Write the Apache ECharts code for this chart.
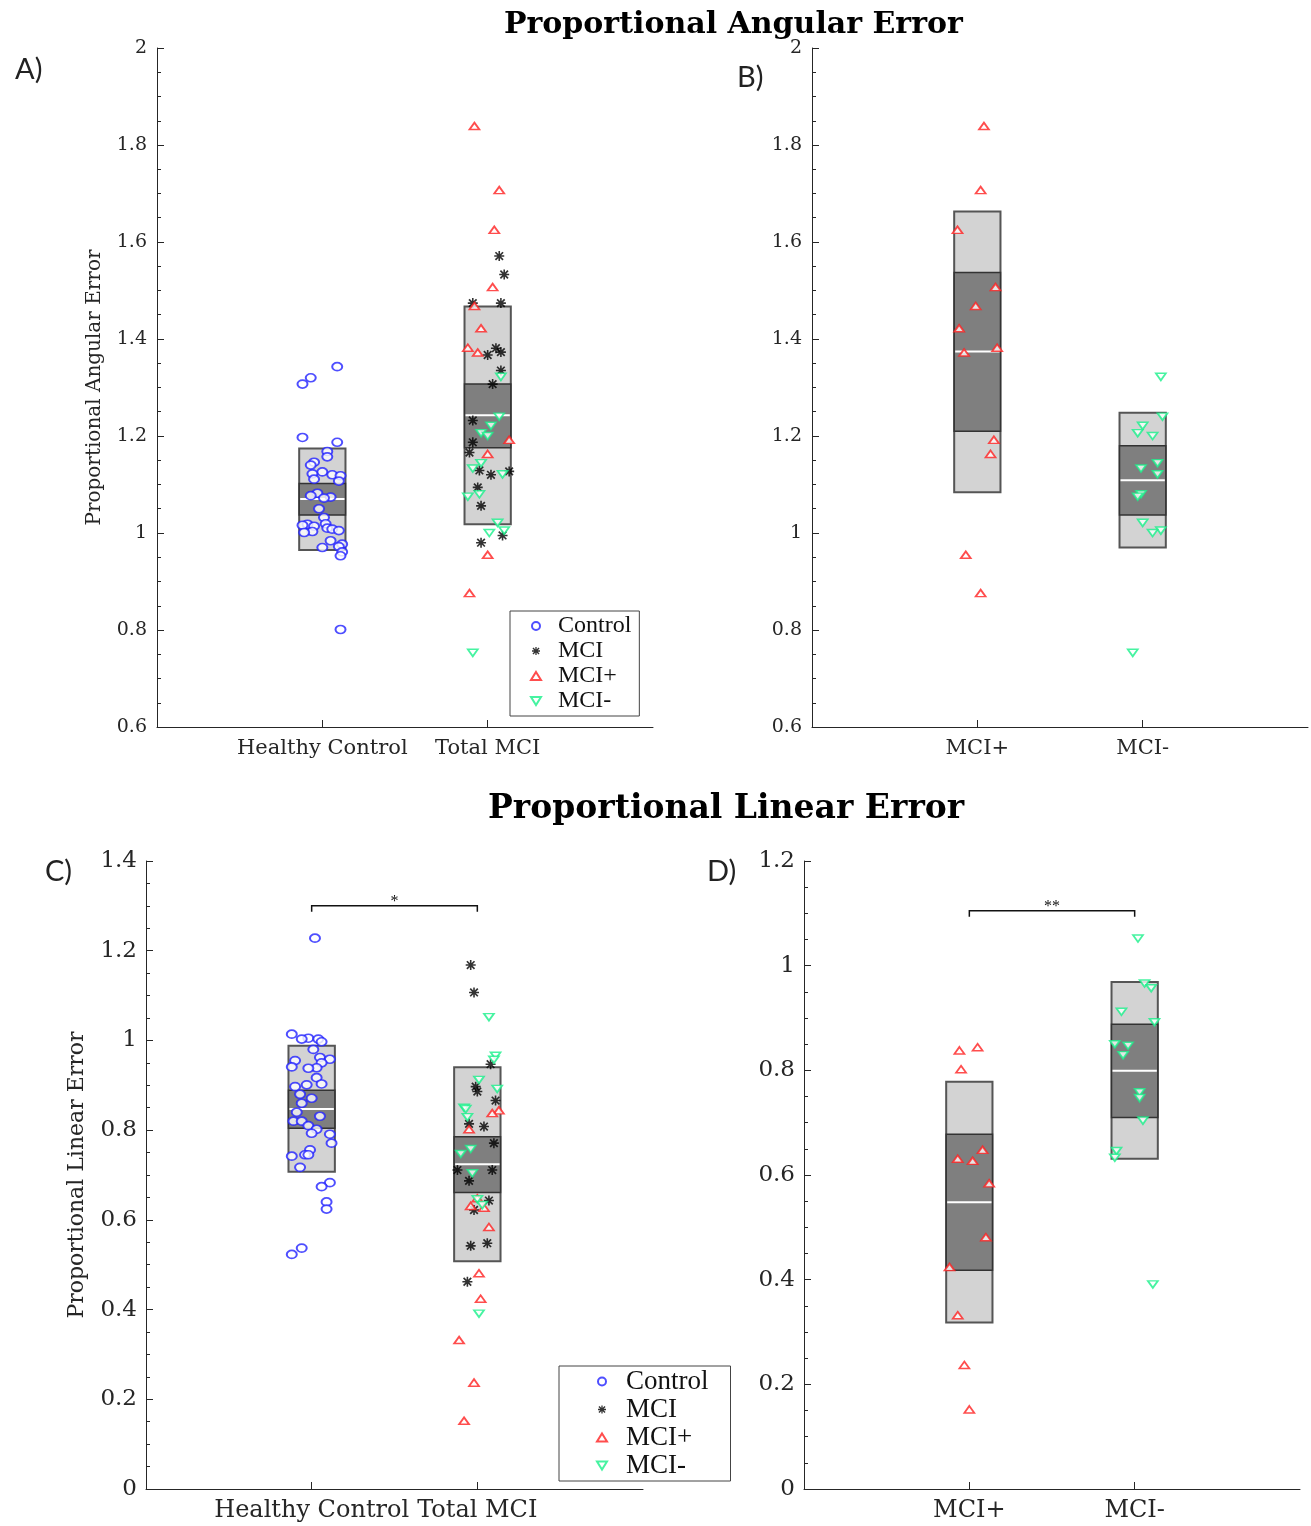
<!DOCTYPE html>
<html>
<head>
<meta charset="utf-8">
<script src="https://cdn.jsdelivr.net/npm/echarts@6/dist/echarts.min.js"></script>
<style>
  html, body { margin: 0; padding: 0; background: #fff; }
  #chart { width: 1311px; height: 1526px; }
</style>
</head>
<body>
<div id="chart"></div>
<script>
// ---- Categories ----
const catsOverall = ['Healthy Control', 'Total MCI'];
const catsSplit = ['MCI+', 'MCI-'];

// ---- Proportional angular error ----
const angControl = [1.343, 1.320, 1.307, 1.197, 1.187, 1.168, 1.157, 1.146, 1.140, 1.126, 1.122, 1.120, 1.118, 1.111, 1.107, 1.082, 1.077, 1.074, 1.072, 1.050, 1.032, 1.019, 1.018, 1.016, 1.014, 1.010, 1.008, 1.005, 1.003, 1.001, 0.984, 0.977, 0.972, 0.970, 0.961, 0.953, 0.801];
const angControlJitter = [0.09, -0.07, -0.12, -0.12, 0.09, 0.03, 0.03, -0.05, -0.07, 0, -0.06, 0.06, 0.11, -0.05, 0.10, -0.03, -0.07, 0.05, 0.01, -0.02, 0.01, 0.02, -0.09, -0.12, -0.05, 0.03, 0.06, 0.10, -0.06, -0.11, 0.05, 0.12, 0.10, 0, 0.12, 0.11, 0.11];

const angMci = [1.571, 1.533, 1.474, 1.474, 1.381, 1.373, 1.367, 1.335, 1.307, 1.232, 1.187, 1.166, 1.129, 1.127, 1.120, 1.094, 1.056, 0.995, 0.980];
const angMciJitter = [0.07, 0.10, -0.09, 0.08, 0.05, 0.08, 0, 0.08, 0.03, -0.09, -0.09, -0.11, -0.05, 0.13, 0.02, -0.06, -0.04, 0.09, -0.04];

const angMciPlus = [1.839, 1.707, 1.625, 1.507, 1.468, 1.422, 1.382, 1.372, 1.192, 1.163, 0.955, 0.876];
const angMciPlusJitterA = [-0.08, 0.07, 0.04, 0.03, -0.08, -0.04, -0.12, -0.06, 0.13, 0, 0, -0.11];
const angMciPlusJitterB = [0.04, 0.02, -0.12, 0.11, -0.01, -0.11, 0.12, -0.08, 0.10, 0.08, -0.07, 0.02];

const angMciMinus = [1.322, 1.240, 1.221, 1.206, 1.200, 1.144, 1.133, 1.121, 1.080, 1.075, 1.021, 1.005, 1.000, 0.753];
const angMciMinusJitterA = [0.08, 0.07, 0.02, -0.04, 0, -0.04, -0.09, 0.09, -0.05, -0.12, 0.06, 0.10, 0.01, -0.09];
const angMciMinusJitterB = [0.11, 0.12, 0, -0.03, 0.06, 0.09, -0.01, 0.09, -0.01, -0.03, 0, 0.11, 0.06, -0.06];

// box summaries: [sdLow, sdHigh, ciLow, ciHigh, mean]
const angBoxControl = [0.965, 1.174, 1.037, 1.102, 1.070];
const angBoxTotal = [1.018, 1.467, 1.176, 1.307, 1.243];
const angBoxPlus = [1.084, 1.663, 1.210, 1.537, 1.374];
const angBoxMinus = [0.970, 1.248, 1.037, 1.180, 1.109];

// ---- Proportional linear error ----
const linControl = [1.228, 1.014, 1.005, 1.003, 1.003, 0.997, 0.980, 0.962, 0.958, 0.955, 0.950, 0.941, 0.939, 0.938, 0.917, 0.903, 0.901, 0.897, 0.880, 0.871, 0.860, 0.840, 0.831, 0.820, 0.820, 0.810, 0.802, 0.793, 0.791, 0.771, 0.756, 0.745, 0.745, 0.742, 0.717, 0.683, 0.674, 0.640, 0.624, 0.537, 0.523];
const linControlJitter = [0.02, -0.12, -0.02, -0.06, 0.04, 0.06, 0.01, 0.05, 0.11, -0.10, 0.06, -0.12, 0.03, -0.02, 0.03, 0.06, -0.03, -0.10, -0.07, 0, -0.06, -0.09, 0.05, -0.11, -0.06, -0.02, 0.03, 0, 0.11, 0.12, -0.01, -0.04, -0.02, -0.12, -0.07, 0.11, 0.06, 0.09, 0.09, -0.06, -0.12];

const linMci = [1.168, 1.107, 0.947, 0.897, 0.886, 0.866, 0.814, 0.808, 0.771, 0.711, 0.711, 0.687, 0.643, 0.622, 0.548, 0.542, 0.462];
const linMciJitter = [-0.04, -0.02, 0.08, -0.01, 0, 0.11, -0.05, 0.04, 0.10, -0.12, 0.09, -0.05, 0.07, -0.02, 0.06, -0.04, -0.06];

const linMciPlus = [0.844, 0.838, 0.802, 0.648, 0.631, 0.627, 0.584, 0.481, 0.424, 0.332, 0.237, 0.152];
const linMciPlusJitterC = [0.13, 0.09, -0.05, 0, -0.04, 0.04, 0.07, 0.01, 0.02, -0.11, -0.02, -0.08];
const linMciPlusJitterD = [0.05, -0.06, -0.05, 0.08, -0.07, 0.02, 0.12, 0.10, -0.12, -0.07, -0.03, 0];

const linMciMinus = [1.052, 0.966, 0.957, 0.912, 0.892, 0.850, 0.847, 0.829, 0.758, 0.747, 0.704, 0.646, 0.633, 0.391];
const linMciMinusJitterC = [0.07, 0.11, 0.10, 0.01, 0.12, -0.08, -0.07, -0.06, -0.04, -0.10, -0.03, 0, 0.03, 0.01];
const linMciMinusJitterD = [0.02, 0.06, 0.10, -0.08, 0.12, -0.12, -0.04, -0.07, 0.03, 0.03, 0.05, -0.11, -0.12, 0.11];

const linBoxControl = [0.707, 0.988, 0.804, 0.889, 0.847];
const linBoxTotal = [0.508, 0.940, 0.661, 0.785, 0.724];
const linBoxPlus = [0.318, 0.778, 0.418, 0.678, 0.548];
const linBoxMinus = [0.631, 0.969, 0.710, 0.888, 0.799];

// significance brackets: [from group, to group, height]
const sigLinOverall = [1, 2, 1.30];
const sigLinSplit = [1, 2, 1.105];
const sigLabelOverall = '*';
const sigLabelSplit = '**';

// ---- Styling ----
const AXIS_COLOR = '#262626';
const SERIF = 'Liberation Serif';
const WIDE_SERIF = 'DejaVu Serif';
const BOX_HALF = 0.14;

const STAR_PATH = 'path://M0,4.2L10,4.2L10,5.8L0,5.8Z M4.2,0L5.8,0L5.8,10L4.2,10Z M0.6,1.8L1.8,0.6L9.4,8.2L8.2,9.4Z M8.2,0.6L9.4,1.8L1.8,9.4L0.6,8.2Z';
const DOWN_TRI = 'path://M0,0L10,0L5,8Z';

const markerStyle = {
  Control: { symbol: 'circle', symbolSize: [10, 8], itemStyle: { color: '#fff', borderColor: '#2222ff', borderWidth: 1.8 } },
  MCI: { symbol: STAR_PATH, symbolSize: 10, itemStyle: { color: '#000' } },
  'MCI+': { symbol: 'triangle', symbolSize: [10, 7], itemStyle: { color: '#fff', borderColor: '#ff2020', borderWidth: 1.7 } },
  'MCI-': { symbol: DOWN_TRI, symbolSize: [10, 7], itemStyle: { color: '#fff', borderColor: '#18f08a', borderWidth: 1.7 } }
};

function points(cat, jitter, values) {
  return values.map((v, i) => [cat + jitter[i], v]);
}

function scatter(name, axisIdx, data) {
  const m = markerStyle[name];
  return {
    type: 'scatter', name, xAxisIndex: axisIdx, yAxisIndex: axisIdx,
    symbol: m.symbol, symbolSize: m.symbolSize, itemStyle: m.itemStyle,
    data, z: 5, silent: true
  };
}

function renderBox(params, api) {
  const x = api.value(0);
  const lo = api.value(1), hi = api.value(2), ciLo = api.value(3), ciHi = api.value(4), m = api.value(5);
  const p1 = api.coord([x - BOX_HALF, hi]);
  const p2 = api.coord([x + BOX_HALF, lo]);
  const c1 = api.coord([x - BOX_HALF, ciHi]);
  const c2 = api.coord([x + BOX_HALF, ciLo]);
  const mm = api.coord([x, m]);
  return {
    type: 'group',
    children: [
      { type: 'rect', shape: { x: p1[0], y: p1[1], width: p2[0] - p1[0], height: p2[1] - p1[1] },
        style: { fill: '#d3d3d3', stroke: '#555', lineWidth: 2 } },
      { type: 'rect', shape: { x: c1[0], y: c1[1], width: c2[0] - c1[0], height: c2[1] - c1[1] },
        style: { fill: '#7f7f7f', stroke: '#333', lineWidth: 1.5 } },
      { type: 'line', shape: { x1: p1[0] + 1, y1: mm[1], x2: p2[0] - 1, y2: mm[1] },
        style: { stroke: '#fff', lineWidth: 2 } }
    ]
  };
}

function boxSeries(axisIdx, boxA, boxB) {
  return {
    type: 'custom', xAxisIndex: axisIdx, yAxisIndex: axisIdx, z: 2, silent: true,
    renderItem: renderBox,
    encode: { x: 0, y: [1, 2, 3, 4, 5] },
    data: [[1].concat(boxA), [2].concat(boxB)]
  };
}

function bracketSeries(axisIdx, sig, label, fontSize) {
  return {
    type: 'custom', xAxisIndex: axisIdx, yAxisIndex: axisIdx, z: 3, silent: true,
    encode: { x: [0, 1], y: 2 },
    data: [sig],
    renderItem: function (params, api) {
      const a = api.coord([api.value(0), api.value(2)]);
      const b = api.coord([api.value(1), api.value(2)]);
      return {
        type: 'group',
        children: [
          { type: 'polyline',
            shape: { points: [[a[0], a[1] + 6], [a[0], a[1]], [b[0], b[1]], [b[0], b[1] + 6]] },
            style: { stroke: '#111', lineWidth: 1.5, fill: null } },
          { type: 'text', x: (a[0] + b[0]) / 2, y: a[1] + 4,
            style: { text: label, fill: '#111', font: fontSize + 'px ' + SERIF, align: 'center', verticalAlign: 'bottom' } }
        ]
      };
    }
  };
}

function xAxis(grid, cats, fontSize, margin) {
  return {
    type: 'value', gridIndex: grid, min: 0, max: 3, interval: 1,
    axisLine: { show: true, lineStyle: { color: AXIS_COLOR, width: 1 } },
    axisTick: { show: true, inside: true, length: 7, customValues: [1, 2], lineStyle: { color: AXIS_COLOR } },
    axisLabel: { customValues: [1, 2], margin, fontFamily: WIDE_SERIF, fontSize, color: AXIS_COLOR,
      formatter: v => cats[Math.round(v) - 1] },
    splitLine: { show: false },
    minorTick: { show: false }
  };
}

function yAxis(grid, min, max, name, fontSize, nameSize, nameGap, margin) {
  return {
    type: 'value', gridIndex: grid, min, max, interval: 0.2,
    name, nameLocation: 'middle', nameGap,
    nameTextStyle: { fontFamily: WIDE_SERIF, fontSize: nameSize, color: AXIS_COLOR },
    axisLine: { show: true, lineStyle: { color: AXIS_COLOR, width: 1 } },
    axisTick: { show: true, inside: true, length: 7, lineStyle: { color: AXIS_COLOR } },
    minorTick: { show: true, splitNumber: 4, length: 4, lineStyle: { color: AXIS_COLOR } },
    axisLabel: { margin, fontFamily: WIDE_SERIF, fontSize, color: AXIS_COLOR,
      formatter: v => String(Math.round(v * 10) / 10) },
    splitLine: { show: false }
  };
}

const legendNames = ['Control', 'MCI', 'MCI+', 'MCI-'];

const option = {
  animation: false,
  backgroundColor: '#fff',
  title: [
    { text: 'Proportional Angular Error', left: 499, top: 5,
      textStyle: { fontFamily: 'DejaVu Serif', fontWeight: 'bold', fontSize: 30, color: '#000' } },
    { text: 'Proportional Linear Error', left: 483, top: 788,
      textStyle: { fontFamily: 'DejaVu Serif', fontWeight: 'bold', fontSize: 33, color: '#000' } },
    { text: 'A)', left: 10, top: 50, textStyle: { fontFamily: 'Lato', fontWeight: 'normal', fontSize: 29, color: '#222' } },
    { text: 'B)', left: 732, top: 58, textStyle: { fontFamily: 'Lato', fontWeight: 'normal', fontSize: 29, color: '#222' } },
    { text: 'C)', left: 40, top: 852, textStyle: { fontFamily: 'Lato', fontWeight: 'normal', fontSize: 29, color: '#222' } },
    { text: 'D)', left: 702, top: 852, textStyle: { fontFamily: 'Lato', fontWeight: 'normal', fontSize: 29, color: '#222' } }
  ],
  grid: [
    { left: 157, top: 48, width: 496, height: 679 },
    { left: 812, top: 48, width: 496, height: 679 },
    { left: 146, top: 861, width: 497, height: 628 },
    { left: 804, top: 861, width: 496, height: 628 }
  ],
  xAxis: [
    xAxis(0, catsOverall, 21, 11),
    xAxis(1, catsSplit, 21, 11),
    xAxis(2, catsOverall, 24, 10),
    xAxis(3, catsSplit, 24, 10)
  ],
  yAxis: [
    yAxis(0, 0.6, 2, 'Proportional Angular Error', 19, 20, 52, 10),
    yAxis(1, 0.6, 2, '', 19, 20, 52, 10),
    yAxis(2, 0, 1.4, 'Proportional Linear Error', 23, 22, 58, 9),
    yAxis(3, 0, 1.2, '', 23, 22, 58, 9)
  ],
  legend: [
    { left: 510, top: 611, orient: 'vertical', data: legendNames, selectedMode: false,
      itemWidth: 10, itemHeight: 8, itemGap: 1, padding: [3, 8, 3, 20],
      borderColor: '#444', borderWidth: 1, backgroundColor: '#fff',
      textStyle: { fontFamily: SERIF, fontSize: 24, color: '#111', padding: [0, 0, 0, 12] } },
    { left: 559, top: 1366, orient: 'vertical', data: legendNames, selectedMode: false,
      itemWidth: 10, itemHeight: 8, itemGap: 1, padding: [2, 22, 2, 37],
      borderColor: '#444', borderWidth: 1, backgroundColor: '#fff',
      textStyle: { fontFamily: SERIF, fontSize: 27, color: '#111', padding: [0, 0, 0, 14] } }
  ],
  series: [
    // A: healthy control vs total MCI
    boxSeries(0, angBoxControl, angBoxTotal),
    scatter('Control', 0, points(1, angControlJitter, angControl)),
    scatter('MCI', 0, points(2, angMciJitter, angMci)),
    scatter('MCI+', 0, points(2, angMciPlusJitterA, angMciPlus)),
    scatter('MCI-', 0, points(2, angMciMinusJitterA, angMciMinus)),
    // B: MCI+ vs MCI-
    boxSeries(1, angBoxPlus, angBoxMinus),
    scatter('MCI+', 1, points(1, angMciPlusJitterB, angMciPlus)),
    scatter('MCI-', 1, points(2, angMciMinusJitterB, angMciMinus)),
    // C: healthy control vs total MCI
    boxSeries(2, linBoxControl, linBoxTotal),
    bracketSeries(2, sigLinOverall, sigLabelOverall, 16),
    scatter('Control', 2, points(1, linControlJitter, linControl)),
    scatter('MCI', 2, points(2, linMciJitter, linMci)),
    scatter('MCI+', 2, points(2, linMciPlusJitterC, linMciPlus)),
    scatter('MCI-', 2, points(2, linMciMinusJitterC, linMciMinus)),
    // D: MCI+ vs MCI-
    boxSeries(3, linBoxPlus, linBoxMinus),
    bracketSeries(3, sigLinSplit, sigLabelSplit, 16),
    scatter('MCI+', 3, points(1, linMciPlusJitterD, linMciPlus)),
    scatter('MCI-', 3, points(2, linMciMinusJitterD, linMciMinus))
  ]
};

const chart = echarts.init(document.getElementById('chart'), null, { renderer: 'canvas' });
chart.setOption(option);
</script>
</body>
</html>
